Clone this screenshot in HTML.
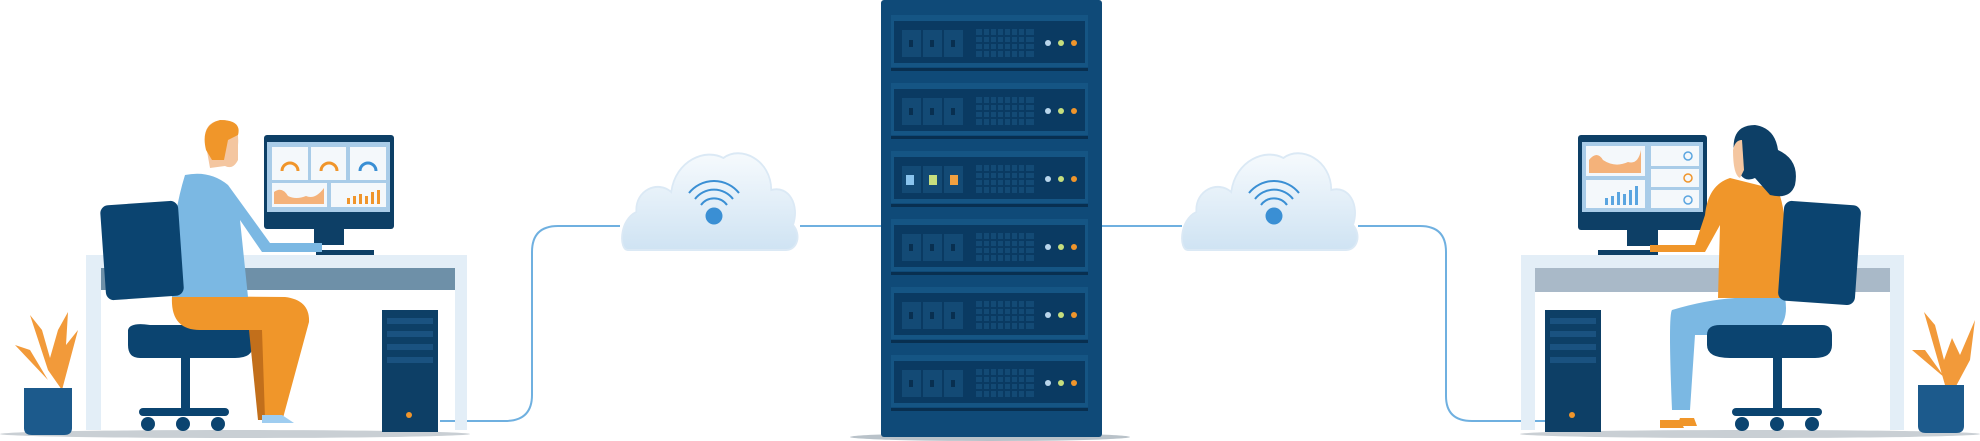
<!DOCTYPE html>
<html><head><meta charset="utf-8"><style>
html,body{margin:0;padding:0;background:#fff;width:1980px;height:441px;overflow:hidden}
svg{display:block}
</style></head><body>
<svg width="1980" height="441" viewBox="0 0 1980 441" xmlns="http://www.w3.org/2000/svg">
<defs>
<linearGradient id="cg" x1="0" y1="0" x2="0" y2="1"><stop offset="0" stop-color="#f6fafd"/><stop offset="1" stop-color="#cfe3f3"/></linearGradient>
<g id="cloudshape">
<path d="M-90,100 C-100,100 -100,70 -80,62 C-82,40 -55,30 -40,42 C-35,10 0,-2 20,8 C40,-5 75,10 75,40 C95,35 108,55 100,75 C110,85 105,100 92,100 Z" fill="url(#cg)" stroke="#dbe9f5" stroke-width="2"/>
</g>
<g id="wifi">
<circle cx="0" cy="66" r="8.5" fill="#3a8fd4"/>
<path d="M-13,55 A16,16 0 0 1 13,55 M-19,49 A24,24 0 0 1 19,49 M-25,43 A32,32 0 0 1 25,43" fill="none" stroke="#3a8fd4" stroke-width="2"/>
</g>
<g id="unit">
<rect x="891" y="0" width="197" height="52" fill="#155584"/>
<rect x="894" y="6" width="191" height="42" fill="#0a3a62"/>
<rect x="891" y="53" width="197" height="3" fill="#082f50"/>
<rect x="902" y="15" width="19" height="27" fill="#134a75"/><rect x="923" y="15" width="19" height="27" fill="#134a75"/><rect x="944" y="15" width="19" height="27" fill="#134a75"/>
<rect x="909" y="25" width="4" height="7" fill="#082f50"/><rect x="930" y="25" width="4" height="7" fill="#082f50"/><rect x="951" y="25" width="4" height="7" fill="#082f50"/>
<rect x="976" y="14" width="58" height="28" fill="#134a75"/>
<path d="M976,21H1034M976,28H1034M976,35H1034M983,14V42M990,14V42M997,14V42M1004,14V42M1011,14V42M1018,14V42M1025,14V42" stroke="#0a3a62" stroke-width="2"/>
<circle cx="1048" cy="28" r="3" fill="#b9d6ec"/><circle cx="1061" cy="28" r="3" fill="#c6de7e"/><circle cx="1074" cy="28" r="3" fill="#f0952b"/>
</g>
<g id="tower">
<rect x="0" y="0" width="56" height="122" fill="#0d3f66"/>
<rect x="5" y="8" width="46" height="6" fill="#1a5280"/><rect x="5" y="21" width="46" height="6" fill="#1a5280"/><rect x="5" y="34" width="46" height="6" fill="#1a5280"/><rect x="5" y="47" width="46" height="6" fill="#1a5280"/>
<circle cx="27" cy="105" r="3" fill="#f0952b"/>
</g>
</defs>

<ellipse cx="235" cy="434" rx="235" ry="4" fill="#c9cfd4"/>
<ellipse cx="990" cy="437" rx="140" ry="4" fill="#b9c2c9"/>
<ellipse cx="1750" cy="434" rx="230" ry="4" fill="#c9cfd4"/>

<g fill="none" stroke="#6fb0e0" stroke-width="2">
<path d="M440,421 H505 Q532,421 532,395 V252 Q532,226 558,226 H620"/>
<path d="M800,226 H881 Q910,226 910,185"/>
<path d="M933,185 Q933,226 965,226 H1182"/>
<path d="M953,185 Q953,222 985,224"/>
<path d="M1358,226 H1420 Q1446,226 1446,252 V396 Q1446,421 1472,421 H1545"/>
</g>

<rect x="881" y="0" width="221" height="437" rx="3" fill="#0f4a78"/>
<use href="#unit" y="15"/><use href="#unit" y="83"/><use href="#unit" y="151"/><use href="#unit" y="219"/><use href="#unit" y="287"/><use href="#unit" y="355"/>
<rect x="906" y="175" width="8" height="10" fill="#8ac4ee"/><rect x="929" y="175" width="8" height="10" fill="#c6de7e"/><rect x="950" y="175" width="8" height="10" fill="#f0a040"/>

<use href="#cloudshape" transform="translate(706,150) scale(0.87,1)"/>
<use href="#wifi" transform="translate(714,150)"/>
<use href="#cloudshape" transform="translate(1266,150) scale(0.87,1)"/>
<use href="#wifi" transform="translate(1274,150)"/>

<!-- LEFT workstation -->
<rect x="86" y="255" width="381" height="13" fill="#e3eef7"/>
<rect x="101" y="268" width="354" height="22" fill="#6e90a8"/>
<rect x="86" y="268" width="15" height="162" fill="#e3eef7"/>
<rect x="455" y="268" width="12" height="162" fill="#e3eef7"/>
<rect x="264" y="135" width="130" height="94" rx="3" fill="#0d3f66"/>
<rect x="267" y="142" width="123" height="70" fill="#a9cce8"/>
<rect x="272" y="147" width="36" height="33" fill="#f4f8fb"/><rect x="311" y="147" width="35" height="33" fill="#f4f8fb"/><rect x="350" y="147" width="36" height="33" fill="#f4f8fb"/>
<rect x="272" y="183" width="55" height="24" fill="#f4f8fb"/><rect x="331" y="183" width="55" height="24" fill="#f4f8fb"/>
<path d="M282,171 A8,8 0 0 1 298,171" fill="none" stroke="#f0952b" stroke-width="3"/>
<path d="M321,171 A8,8 0 0 1 337,171" fill="none" stroke="#f0952b" stroke-width="3"/>
<path d="M360,171 A8,8 0 0 1 376,171" fill="none" stroke="#3a8fd4" stroke-width="3"/>
<path d="M274,204 V192 Q282,186 288,196 Q296,200 306,196 Q315,200 324,188 V204 Z" fill="#f4b27a"/>
<g fill="#f0952b"><rect x="347" y="198" width="3" height="6"/><rect x="353" y="196" width="3" height="8"/><rect x="359" y="194" width="3" height="10"/><rect x="365" y="196" width="3" height="8"/><rect x="371" y="192" width="3" height="12"/><rect x="377" y="190" width="3" height="14"/></g>
<rect x="314" y="229" width="30" height="16" fill="#0d3f66"/>
<rect x="316" y="250" width="58" height="5" fill="#0d3f66"/>
<!-- chair seat/base -->
<path d="M128,330 Q130,322 150,325 H245 Q253,325 253,335 V345 Q253,358 235,358 H140 Q128,358 128,345 Z" fill="#0b4470"/>
<rect x="181" y="358" width="9" height="52" fill="#0b4470"/>
<rect x="139" y="408" width="90" height="8" rx="4" fill="#0b4470"/>
<circle cx="148" cy="424" r="7" fill="#0b4470"/><circle cx="183" cy="424" r="7" fill="#0b4470"/><circle cx="218" cy="424" r="7" fill="#0b4470"/>
<!-- man -->
<path d="M247,310 L258,420 H270 L275,310 Z" fill="#c26f1b"/>
<path d="M172,296 Q170,330 200,330 H262 L265,418 H283 L309,322 Q310,300 285,297 Z" fill="#f0962a"/>
<path d="M262,415 h20 l12,8 h-32 Z" fill="#9fcdf0"/>
<path d="M185,175 Q210,170 228,185 L270,243 H322 V252 H262 L240,220 L248,297 H172 Q168,230 185,175 Z" fill="#7bb8e3"/>
<path d="M205,140 Q204,120 225,120 Q240,125 238,145 V160 Q233,170 225,166 L210,168 Z" fill="#f4c6a0"/>
<path d="M206,150 Q200,125 220,120 Q242,120 238,135 L228,140 L224,160 L212,160 Z" fill="#f0962a"/>
<!-- chair back in front -->
<rect x="103" y="203" width="78" height="95" rx="8" fill="#0b4470" transform="rotate(-4 142 250)"/>
<use href="#tower" transform="translate(382,310)"/>
<path d="M48,370 L30,315 L42,330 L50,358 L58,330 L68,312 L66,345 L78,330 L62,390 Z M48,380 L15,345 L30,350 Z" fill="#f29a3a"/>
<path d="M24,388 H72 V428 Q72,435 64,435 H32 Q24,435 24,428 Z" fill="#1c5a8c"/>

<!-- RIGHT workstation -->
<rect x="1521" y="255" width="383" height="13" fill="#e3eef7"/>
<rect x="1535" y="268" width="355" height="24" fill="#a9b9c8"/>
<rect x="1521" y="268" width="14" height="162" fill="#e3eef7"/>
<rect x="1890" y="268" width="14" height="162" fill="#e3eef7"/>
<rect x="1578" y="135" width="129" height="95" rx="3" fill="#0d3f66"/>
<rect x="1582" y="142" width="121" height="70" fill="#a9cce8"/>
<rect x="1586" y="146" width="59" height="30" fill="#f4f8fb"/><rect x="1586" y="180" width="59" height="28" fill="#f4f8fb"/>
<rect x="1651" y="146" width="48" height="20" fill="#f4f8fb"/><rect x="1651" y="169" width="48" height="18" fill="#f4f8fb"/><rect x="1651" y="190" width="48" height="18" fill="#f4f8fb"/>
<path d="M1589,173 V160 Q1597,150 1603,160 Q1615,168 1628,162 Q1638,165 1641,150 V173 Z" fill="#f4b27a"/>
<g fill="#5aa5e0"><rect x="1605" y="198" width="3" height="7"/><rect x="1611" y="196" width="3" height="9"/><rect x="1617" y="192" width="3" height="13"/><rect x="1623" y="194" width="3" height="11"/><rect x="1629" y="190" width="3" height="15"/><rect x="1635" y="186" width="3" height="19"/></g>
<circle cx="1688" cy="156" r="4" fill="none" stroke="#5aa5e0" stroke-width="1.5"/><circle cx="1688" cy="178" r="4" fill="none" stroke="#f0952b" stroke-width="1.5"/><circle cx="1688" cy="200" r="4" fill="none" stroke="#5aa5e0" stroke-width="1.5"/>
<rect x="1627" y="230" width="31" height="16" fill="#0d3f66"/>
<rect x="1598" y="250" width="60" height="5" fill="#0d3f66"/>
<path d="M1735,298 Q1705,300 1672,310 Q1668,315 1672,410 H1690 L1695,335 H1770 Q1790,325 1785,298 Z" fill="#7bb8e3"/>
<path d="M1660,420 h20 l4,8 h-24 Z M1680,418 h14 l3,8 h-20 Z" fill="#f0962a"/>
<path d="M1730,178 Q1708,185 1705,215 L1695,245 H1650 V252 H1705 L1720,225 L1718,298 H1786 Q1790,220 1778,190 Z" fill="#f0962a"/>
<path d="M1735,160 Q1728,125 1755,125 Q1775,128 1778,150 Q1800,160 1795,185 Q1790,200 1770,195 L1755,178 Q1740,185 1735,160 Z" fill="#0d3f66"/>
<path d="M1733,150 Q1735,140 1742,140 L1744,170 L1740,178 Q1733,175 1733,150 Z" fill="#f4c6a0"/>
<path d="M1707,335 Q1707,325 1720,325 H1822 Q1832,325 1832,335 V345 Q1832,358 1815,358 H1730 Q1707,358 1707,345 Z" fill="#0b4470"/>
<rect x="1773" y="358" width="9" height="52" fill="#0b4470"/>
<rect x="1732" y="408" width="90" height="8" rx="4" fill="#0b4470"/>
<circle cx="1742" cy="424" r="7" fill="#0b4470"/><circle cx="1777" cy="424" r="7" fill="#0b4470"/><circle cx="1812" cy="424" r="7" fill="#0b4470"/>
<rect x="1781" y="203" width="77" height="100" rx="8" fill="#0b4470" transform="rotate(4 1820 253)"/>
<use href="#tower" transform="translate(1545,310)"/>
<path d="M1945,385 L1924,312 L1935,325 L1944,360 L1952,338 L1960,355 L1975,320 L1970,360 L1955,388 Z M1945,378 L1912,350 L1925,350 Z" fill="#f29a3a"/>
<path d="M1918,385 H1964 V426 Q1964,433 1956,433 H1926 Q1918,433 1918,426 Z" fill="#1c5a8c"/>
</svg>
</body></html>
